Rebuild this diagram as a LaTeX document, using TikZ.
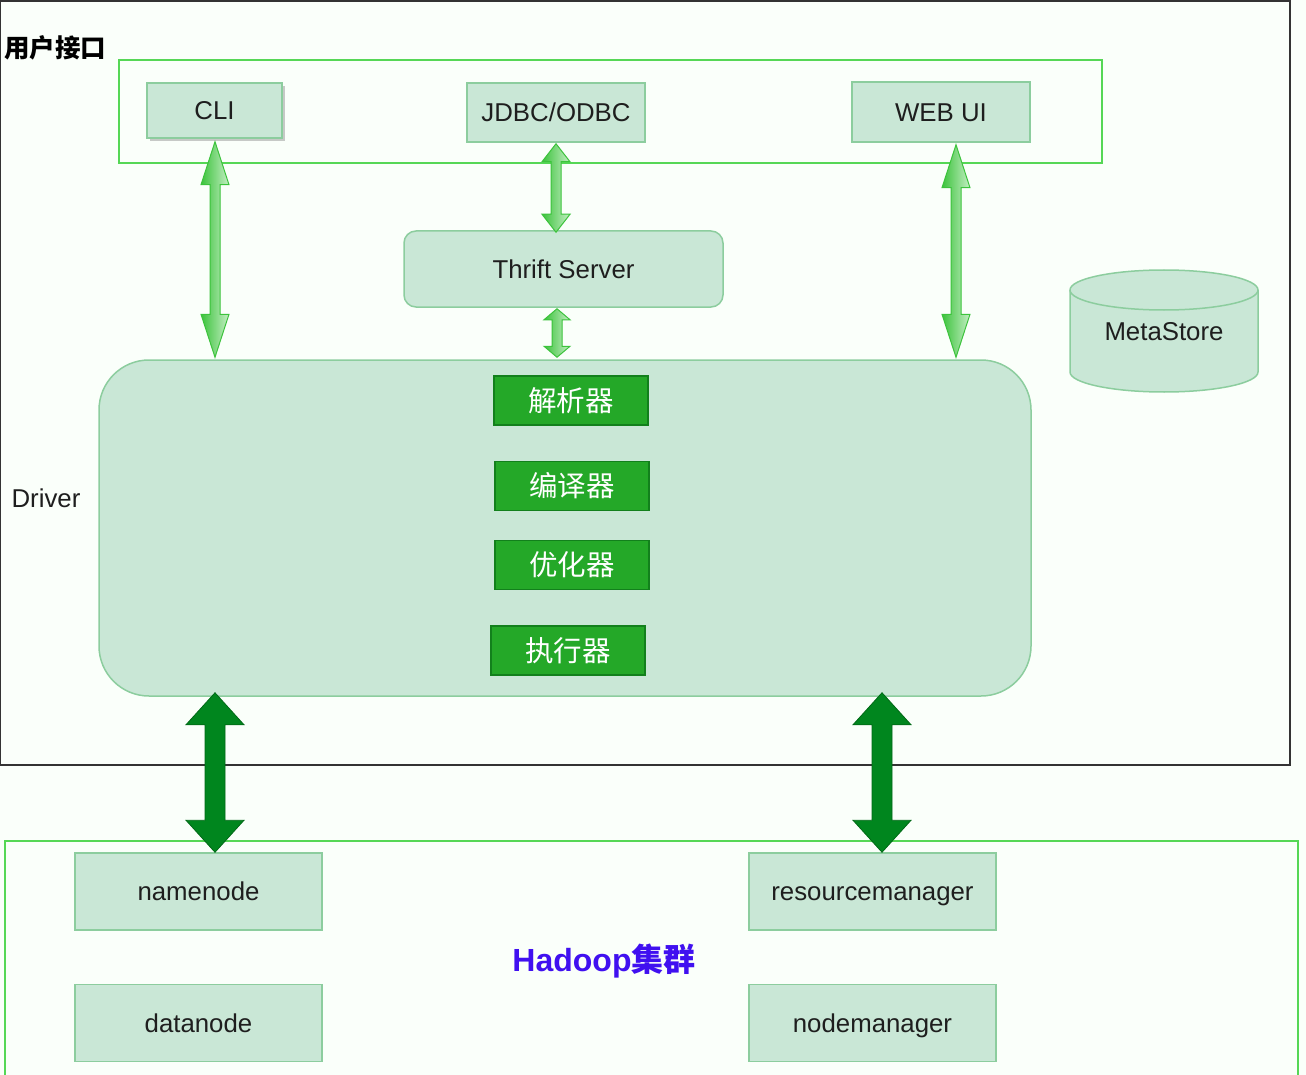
\documentclass[tikz,border=0pt]{standalone}
\usepackage{fontspec}
\setmainfont{Liberation Sans}
\newfontfamily\cjk{Noto Sans CJK SC}
\usetikzlibrary{shapes.geometric,shadows,calc}
\definecolor{boxfill}{RGB}{201,231,214}
\definecolor{boxline}{RGB}{140,205,158}
\definecolor{frameg}{RGB}{85,215,85}
\definecolor{btnfill}{RGB}{36,168,40}
\definecolor{btnline}{RGB}{18,128,28}
\definecolor{darkarrow}{RGB}{0,134,30}
\definecolor{darkarrowline}{RGB}{0,105,22}
\definecolor{larrowdark}{RGB}{60,195,60}
\definecolor{larrowlight}{RGB}{195,238,195}
\definecolor{txt}{RGB}{30,30,30}
\definecolor{hadoop}{RGB}{64,16,240}
\newcommand\dblarrow[6]{%
\path[#6] let \p1=#1, \p2=#2 in
 (\x1,\y1) -- (\x1+#4,\y1-#5) -- (\x1+#3,\y1-#5) -- (\x1+#3,\y2+#5) -- (\x1+#4,\y2+#5) -- (\x1,\y2) -- (\x1-#4,\y2+#5) -- (\x1-#3,\y2+#5) -- (\x1-#3,\y1-#5) -- (\x1-#4,\y1-#5) -- cycle;}
\tikzset{
  box/.style={draw=boxline, line width=1.5pt, fill=boxfill, text=txt, font=\fontsize{25.8}{30}\selectfont, inner sep=0pt, text height=18.6pt, text depth=0pt},
  btn/.style={draw=btnline, line width=1.5pt, fill=btnfill, text=white, font=\cjk\fontsize{28.5}{32}\selectfont, minimum width=154pt, minimum height=49pt, inner sep=0pt},
  frame/.style={draw=frameg, line width=1.6pt},
  larrow/.style={left color=larrowdark, right color=larrowlight, draw=larrowdark, line width=1pt},
  darr/.style={fill=darkarrow, draw=darkarrowline, line width=0.8pt},
  lbl/.style={text=txt, font=\fontsize{25.8}{30}\selectfont, inner sep=0pt}
}
\begin{document}
\begin{tikzpicture}[x=1pt,y=-1pt]
\useasboundingbox (0,0) rectangle (1306,1075);
\fill[white!98!green] (0,0) rectangle (1306,1075);
% outer frame
\draw[black!80, line width=1.3pt] (0.7,1) rectangle (1290,765);
% title
\node[anchor=west, inner sep=0pt, font=\cjk\bfseries\fontsize{25.5}{30}\selectfont, text=black] (title) at (4,48) {用户接口};
% user interface frame
\node[frame, minimum width=983pt, minimum height=103pt, inner sep=0pt] (ui) at (610.5,111.5) {};
\node[box, minimum width=135pt, minimum height=55pt, drop shadow={shadow xshift=3pt, shadow yshift=-3pt, opacity=0.35, fill=black!60}] (cli) at (214.5,110.5) {CLI};
\node[box, minimum width=178pt, minimum height=59pt] (jdbc) at (556,112.5) {JDBC/ODBC};
\node[box, minimum width=178pt, minimum height=60pt] (webui) at (941,112) {WEB UI};
% thrift
\node[box, rounded corners=12pt, minimum width=319pt, minimum height=76pt] (thrift) at (563.5,269) {Thrift Server};
% metastore
\node[lbl, minimum width=188pt, minimum height=122pt] (meta) at (1164,331) {};
\path[draw=boxline, line width=1.5pt, fill=boxfill] (1070,290) -- (1070,372) arc[start angle=180, end angle=360, x radius=94pt, y radius=20pt] -- (1258,290) arc[start angle=0, end angle=180, x radius=94pt, y radius=20pt] -- cycle;
\draw[boxline, line width=1.5pt] (1070,290) arc[start angle=180, end angle=360, x radius=94pt, y radius=20pt];
\node[lbl] (metatxt) at (1164,332) {MetaStore};
% driver
\node[draw=boxline, line width=1.5pt, fill=boxfill, rounded corners=50pt, minimum width=932pt, minimum height=336pt] (driver) at (565,528) {};
\node[lbl] (drvlbl) at (46,498) {Driver};
\node[btn] (b1) at (571,400.5) {解析器};
\node[btn] (b2) at (572,486) {编译器};
\node[btn] (b3) at (572,565) {优化器};
\node[btn] (b4) at (568,650.5) {执行器};
% hadoop cluster frame
\draw[frame] (5,1078) -- (5,841) -- (1298,841) -- (1298,1078);
\node[box, minimum width=247pt, minimum height=77pt] (nn) at (198.5,891.5) {namenode};
\node[box, minimum width=247pt, minimum height=77pt] (dn) at (198.5,1023) {datanode};
\node[box, minimum width=247pt, minimum height=77pt] (rm) at (872.5,891.5) {resourcemanager};
\node[box, minimum width=247pt, minimum height=77pt] (nm) at (872.5,1023) {nodemanager};
\node[inner sep=0pt, text=hadoop, font=\bfseries\fontsize{32}{36}\selectfont] (hadoop) at (604,961) {Hadoop{\cjk 集群}};
% light arrows
\coordinate (wa) at ($(webui.south)+(15,2)$);
\dblarrow{($(cli.south)+(0.5,3)$)}{($(driver.north -| cli.south)+(0.5,-2)$)}{5pt}{14pt}{43pt}{larrow}
\dblarrow{($(jdbc.south)+(0,1)$)}{($(thrift.north -| jdbc.south)+(0,2)$)}{5pt}{14pt}{18pt}{larrow}
\dblarrow{($(thrift.south -| jdbc.south)+(1,1)$)}{($(driver.north -| jdbc.south)+(1,-2)$)}{5pt}{13pt}{11pt}{larrow}
\dblarrow{(wa)}{($(driver.north -| wa)+(0,-2)$)}{5pt}{14pt}{43pt}{larrow}
% dark arrows
\coordinate (a1) at ($(nn.north)+(16.5,0)$);
\coordinate (a2) at ($(rm.north)+(9.5,0)$);
\dblarrow{($(driver.south -| a1)+(0,-4)$)}{(a1)}{10pt}{29pt}{32pt}{darr}
\dblarrow{($(driver.south -| a2)+(0,-4)$)}{(a2)}{10pt}{29pt}{32pt}{darr}
\end{tikzpicture}
\end{document}
